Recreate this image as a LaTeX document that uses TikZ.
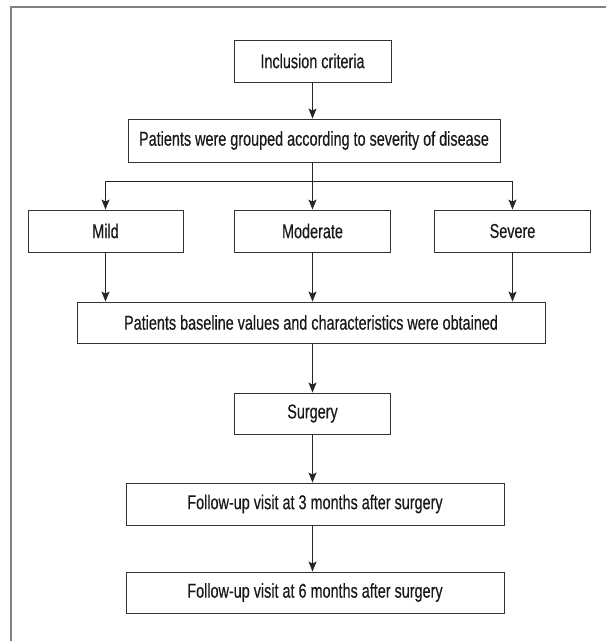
\documentclass[tikz,border=0pt]{standalone}
\usepackage{fontspec}
\setmainfont[FakeStretch=0.72,FakeBold=0.4]{Liberation Sans}
\usetikzlibrary{arrows.meta}
\begin{document}
\begin{tikzpicture}[x=1pt,y=1pt,
  box/.style={draw=black!80,line width=0.9pt,inner sep=0pt,minimum height=42pt,
    font=\fontsize{20}{22}\selectfont,text=black!90},
  arr/.style={draw=black!85,line width=0.9pt,-{Stealth[length=10pt,width=8pt,inset=2pt]}},
  conn/.style={draw=black!85,line width=0.9pt}]
\useasboundingbox (0,0) rectangle (606,-641);
\draw[black!50,line width=1.6pt] (11,-641) -- (11,-7) -- (606,-7);
\node[box,minimum width=157pt] (inc) at (312.5,-61) {Inclusion criteria};
\node[box,minimum width=372pt,minimum height=43pt] (grp) at (314,-140.5) {Patients were grouped according to severity of disease};
\node[box,minimum width=155pt] (mild) at (105.5,-231) {Mild};
\node[box,minimum width=156pt] (mod) at (312.5,-231) {Moderate};
\node[box,minimum width=156pt] (sev) at (512.5,-231) {Severe};
\node[box,minimum width=468pt,minimum height=41pt] (base) at (311,-322.5) {Patients baseline values and characteristics were obtained};
\node[box,minimum width=156pt,minimum height=41pt] (surg) at (312.5,-413.5) {Surgery};
\node[box,minimum width=378pt] (f3) at (315,-504) {Follow-up visit at 3 months after surgery};
\node[box,minimum width=378pt,minimum height=41pt] (f6) at (315,-592.5) {Follow-up visit at 6 months after surgery};
\coordinate (br) at (312.5,-181);
\draw[arr] (inc.south) -- (inc.south |- grp.north);
\draw[conn] (br |- grp.south) -- (br);
\draw[arr] (br) -| (mild.north);
\draw[arr] (br) -| (sev.north);
\draw[arr] (br) -- (mod.north);
\draw[arr] (mild.south) -- (mild.south |- base.north);
\draw[arr] (mod.south) -- (mod.south |- base.north);
\draw[arr] (sev.south) -- (sev.south |- base.north);
\draw[arr] (mod.south |- base.south) -- (surg.north);
\draw[arr] (surg.south) -- (surg.south |- f3.north);
\draw[arr] (surg.south |- f3.south) -- (surg.south |- f6.north);
\end{tikzpicture}
\end{document}
